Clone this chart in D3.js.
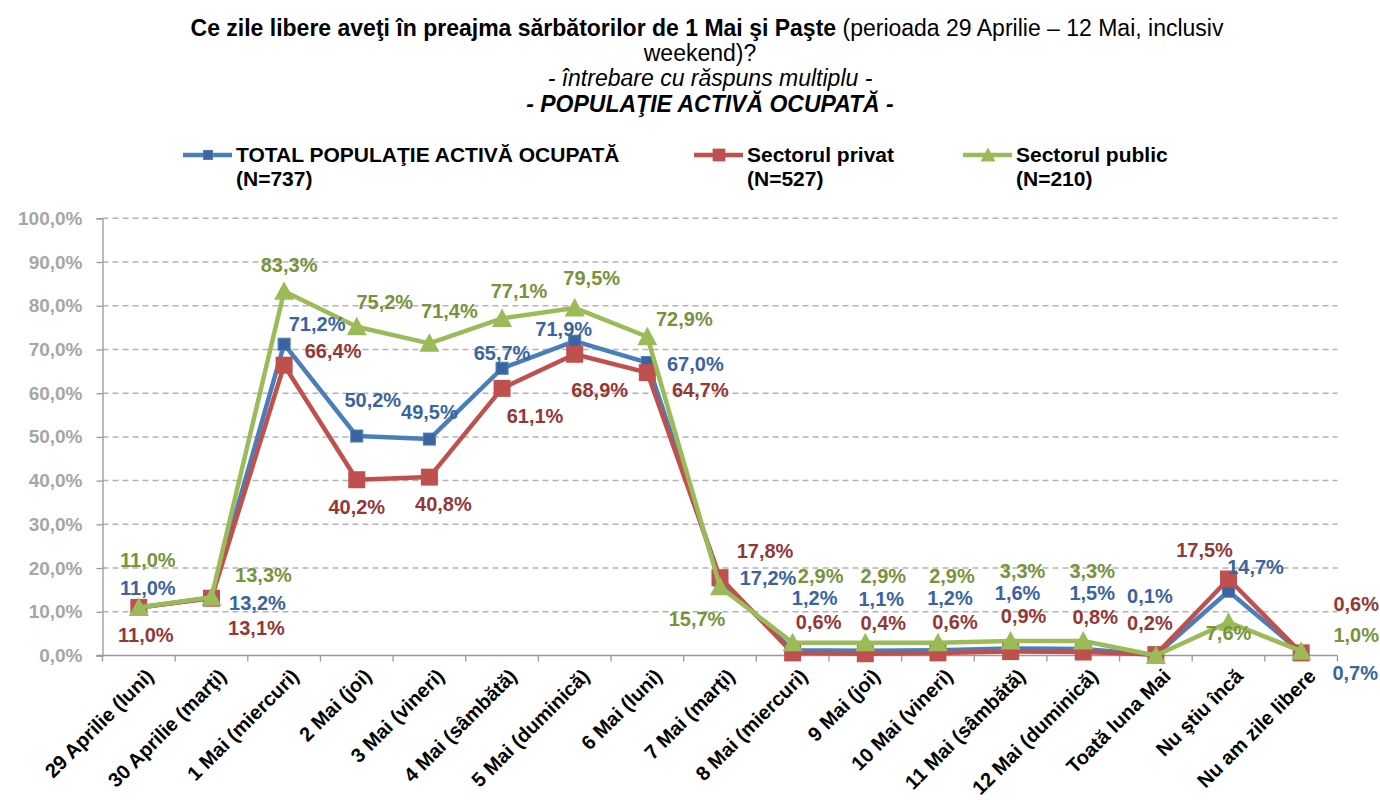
<!DOCTYPE html>
<html>
<head>
<meta charset="utf-8">
<script src="https://cdn.jsdelivr.net/npm/d3@7"></script>
<style>
  body { margin: 0; background: #fff; }
  svg { display: block; font-family: "Liberation Sans", Arial, sans-serif; }
</style>
</head>
<body>
<div class="chart"></div>
<script>
// Categories (x axis)
const categories = [
  "29 Aprilie (luni)", "30 Aprilie (marţi)", "1 Mai (miercuri)", "2 Mai (joi)",
  "3 Mai (vineri)", "4 Mai (sâmbătă)", "5 Mai (duminică)", "6 Mai (luni)",
  "7 Mai (marţi)", "8 Mai (miercuri)", "9 Mai (joi)", "10 Mai (vineri)",
  "11 Mai (sâmbătă)", "12 Mai (duminică)", "Toată luna Mai", "Nu ştiu încă",
  "Nu am zile libere"
];

// Series values (%)
const totalValues   = [11.0, 13.2, 71.2, 50.2, 49.5, 65.7, 71.9, 67.0, 17.2, 1.2, 1.1, 1.2, 1.6, 1.5, 0.1, 14.7, 0.7];
const privatValues  = [11.0, 13.1, 66.4, 40.2, 40.8, 61.1, 68.9, 64.7, 17.8, 0.6, 0.4, 0.6, 0.9, 0.8, 0.2, 17.5, 0.6];
const publicValues  = [11.0, 13.3, 83.3, 75.2, 71.4, 77.1, 79.5, 72.9, 15.7, 2.9, 2.9, 2.9, 3.3, 3.3, 0.0, 7.6, 1.0];

const yTicks = [0, 10, 20, 30, 40, 50, 60, 70, 80, 90, 100];

// Label offsets (px) from each point, placed by hand like the original
const totalLabelOffsets = [[9,-19],[46,5],[33,-20],[16,-36],[0,-27],[0,-15],[-11,-12],[48,1],[48,-2],
  [22,-52],[16,-52],[12,-52],[7,-56],[9,-56],[-6,-59],[27,-24],[54,21]];
const privatLabelOffsets = [[7,28],[45,30],[49,-14],[0,27],[14,27],[33,28],[25,36],[53,17],[45,-27],
  [26,-31],[18,-31],[17,-31],[13,-36],[12,-35],[-6,-32],[-24,-29],[55,-49]];
const publicLabelOffsets = [[9,-47],[52,-22],[5,-26],[28,-25],[20,-32],[17,-27],[17,-30],[37,-18],[-23,32],
  [28,-67],[18,-67],[14,-67],[12,-70],[9,-70],[0,0],[0,11],[55,-16]];

const series = [
  { name: "TOTAL POPULAŢIE ACTIVĂ OCUPATĂ", n: "(N=737)", values: totalValues, offsets: totalLabelOffsets,
    line: "#4a7ebb", marker: "#3b64a0", label: "#3a64a0", shape: "smallSquare", legendX: 183 },
  { name: "Sectorul privat", n: "(N=527)", values: privatValues, offsets: privatLabelOffsets,
    line: "#c0504d", marker: "#c0504d", label: "#953735", shape: "square", legendX: 694 },
  { name: "Sectorul public", n: "(N=210)", values: publicValues, offsets: publicLabelOffsets,
    line: "#9bbb59", marker: "#9bbb59", label: "#77933c", shape: "triangle", legendX: 963 }
];

const W = 1380, H = 800;
const plot = { left: 102.5, right: 1337.5, top: 218.3, bottom: 655.5 };

const svg = d3.select(".chart").append("svg")
  .attr("width", W)
  .attr("height", H);

// Title
const title = svg.append("g").attr("fill", "#000").style("font-size", "23px");
const t1 = title.append("text").attr("x", 707).attr("y", 36).attr("text-anchor", "middle");
t1.append("tspan").attr("font-weight", "bold").text("Ce zile libere aveţi în preajma sărbătorilor de 1 Mai şi Paşte");
t1.append("tspan").text(" (perioada 29 Aprilie – 12 Mai, inclusiv");
title.append("text").attr("x", 700).attr("y", 61).attr("text-anchor", "middle")
  .text("weekend)?");
title.append("text").attr("x", 710).attr("y", 86).attr("text-anchor", "middle")
  .attr("font-style", "italic").text("- întrebare cu răspuns multiplu -");
title.append("text").attr("x", 710).attr("y", 112).attr("text-anchor", "middle")
  .attr("font-style", "italic").attr("font-weight", "bold").text("- POPULAŢIE ACTIVĂ OCUPATĂ -");

// Scales
const x = d3.scaleBand().domain(categories).range([plot.left, plot.right]);
const y = d3.scaleLinear().domain([0, 100]).range([plot.bottom, plot.top]);
const cx = c => x(c) + x.bandwidth() / 2;

// Gridlines
svg.append("g")
  .selectAll("line")
  .data(yTicks.filter(d => d > 0))
  .enter().append("line")
  .attr("x1", plot.left).attr("x2", plot.right)
  .attr("y1", d => y(d)).attr("y2", d => y(d))
  .attr("stroke", "#b3b3b3")
  .attr("stroke-width", 1.5)
  .attr("stroke-dasharray", "6,4");

// Y axis
const yAxis = svg.append("g")
  .attr("transform", `translate(${plot.left},0)`)
  .call(d3.axisLeft(y).tickValues(yTicks).tickSize(6).tickPadding(14)
    .tickFormat(d => d.toFixed(1).replace(".", ",") + "%"));
yAxis.select(".domain").attr("stroke", "#999").attr("stroke-width", 1.3);
yAxis.selectAll(".tick line").attr("stroke", "#999").attr("stroke-width", 1.3);
yAxis.selectAll(".tick text")
  .attr("fill", "#a6a6a6")
  .style("font-size", "19px")
  .style("font-weight", "bold")
  .style("font-family", "'Liberation Sans', Arial, sans-serif");

// X axis (ticks between categories)
const xAxis = svg.append("g");
xAxis.append("line")
  .attr("x1", plot.left - 6).attr("x2", plot.right)
  .attr("y1", plot.bottom).attr("y2", plot.bottom)
  .attr("stroke", "#999").attr("stroke-width", 1.3);
xAxis.selectAll("line.tk")
  .data(categories.concat(["_end"]))
  .enter().append("line")
  .attr("class", "tk")
  .attr("x1", (d, i) => i < categories.length ? x(d) : plot.right)
  .attr("x2", (d, i) => i < categories.length ? x(d) : plot.right)
  .attr("y1", plot.bottom).attr("y2", plot.bottom + 6)
  .attr("stroke", "#999").attr("stroke-width", 1.3);
xAxis.selectAll("text")
  .data(categories)
  .enter().append("text")
  .attr("transform", d => `translate(${cx(d) + 11},${plot.bottom + 17}) rotate(-45)`)
  .attr("text-anchor", "end")
  .attr("dy", "0.35em")
  .style("font-size", "20px")
  .style("font-weight", "bold")
  .attr("fill", "#000")
  .text(d => d);

// Marker drawing helper
function drawMarker(g, shape, color, px, py, scale) {
  const s = scale || 1;
  if (shape === "smallSquare") {
    const h = 6 * s;
    g.append("rect").attr("x", px - h).attr("y", py - h).attr("width", 2 * h).attr("height", 2 * h)
      .attr("fill", color).attr("stroke", "#4a7ebb").attr("stroke-width", 1);
  } else if (shape === "square") {
    const h = 8.5 * s;
    g.append("rect").attr("x", px - h).attr("y", py - h).attr("width", 2 * h).attr("height", 2 * h)
      .attr("fill", color);
  } else {
    const h = 10 * s;
    g.append("path")
      .attr("d", `M${px},${py - h}L${px + h},${py + h * 0.85}L${px - h},${py + h * 0.85}Z`)
      .attr("fill", color);
  }
}

const line = d3.line()
  .x((d, i) => cx(categories[i]))
  .y(d => y(d));

// Series lines + markers
series.forEach(s => {
  const g = svg.append("g");
  g.append("path")
    .datum(s.values)
    .attr("d", line)
    .attr("fill", "none")
    .attr("stroke", s.line)
    .attr("stroke-width", 4.5)
    .attr("stroke-linejoin", "round");
  s.values.forEach((v, i) => drawMarker(g, s.shape, s.marker, cx(categories[i]), y(v)));
});

// Data labels
series.forEach(s => {
  svg.append("g")
    .selectAll("text")
    .data(s.values.map((v, i) => ({ v, i })).filter(d => d.v > 0))
    .enter().append("text")
    .attr("x", d => cx(categories[d.i]) + s.offsets[d.i][0])
    .attr("y", d => y(d.v) + s.offsets[d.i][1])
    .attr("dy", "0.35em")
    .attr("text-anchor", "middle")
    .attr("fill", s.label)
    .style("font-size", "20px")
    .style("font-weight", "bold")
    .text(d => d.v.toFixed(1).replace(".", ",") + "%");
});

// Legend
series.forEach(s => {
  const g = svg.append("g");
  g.append("line")
    .attr("x1", s.legendX).attr("x2", s.legendX + 49)
    .attr("y1", 155).attr("y2", 155)
    .attr("stroke", s.line).attr("stroke-width", 4.5);
  drawMarker(g, s.shape, s.marker, s.legendX + 25, 155, 0.75);
  g.append("text").attr("x", s.legendX + 53).attr("y", 162)
    .style("font-size", "21px").style("font-weight", "bold").attr("fill", "#000").text(s.name);
  g.append("text").attr("x", s.legendX + 53).attr("y", 186)
    .style("font-size", "21px").style("font-weight", "bold").attr("fill", "#000").text(s.n);
});
</script>
</body>
</html>
